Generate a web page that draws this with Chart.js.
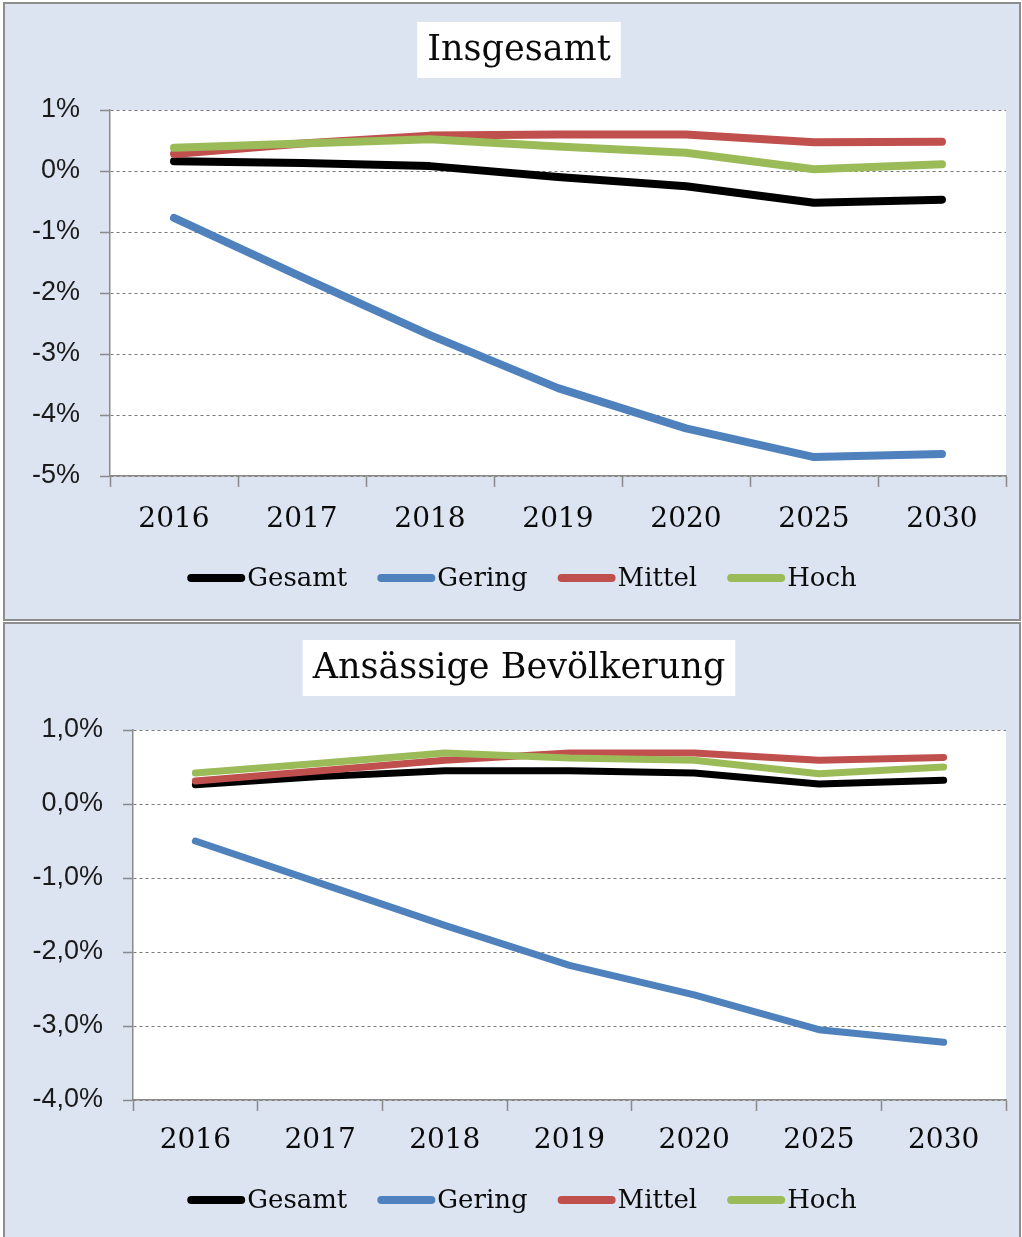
<!DOCTYPE html>
<html lang="de">
<head>
<meta charset="UTF-8">
<title>Insgesamt / Ansässige Bevölkerung</title>
<script src="https://cdn.jsdelivr.net/npm/chart.js"></script>
<style>
  body { margin: 0; background: #ffffff; }
  .panel { position: absolute; left: 3px; width: 1014px; background: #dce4f2; border: 2px solid #8e8e8e; }
  canvas { position: absolute; left: 0; }
</style>
</head>
<body>
<div class="panel" style="top:2px;height:615px"></div>
<div class="panel" style="top:622px;height:620px"></div>
<canvas id="c1" width="1022" height="621" style="top:0"></canvas>
<canvas id="c2" width="1022" height="615" style="top:622px"></canvas>

<script>
const years = ['2016', '2017', '2018', '2019', '2020', '2025', '2030'];
const seriesNames = ['Gesamt', 'Gering', 'Mittel', 'Hoch'];
const seriesColors = ['#000000', '#4f81bd', '#c0504d', '#9bbb59'];

// Insgesamt (%)
const gesamt1 = [0.16, 0.13, 0.08, -0.10, -0.25, -0.52, -0.47];
const gering1 = [-0.77, -1.74, -2.69, -3.56, -4.22, -4.69, -4.64];
const mittel1 = [0.28, 0.45, 0.58, 0.60, 0.60, 0.47, 0.48];
const hoch1 = [0.38, 0.45, 0.52, 0.40, 0.30, 0.03, 0.11];

// Ansässige Bevölkerung (%)
const gesamt2 = [0.26, 0.37, 0.45, 0.45, 0.42, 0.27, 0.32];
const gering2 = [-0.50, -1.07, -1.64, -2.18, -2.58, -3.05, -3.22];
const mittel2 = [0.31, 0.45, 0.59, 0.69, 0.69, 0.59, 0.63];
const hoch2 = [0.42, 0.55, 0.69, 0.62, 0.59, 0.41, 0.50];

const serif = 'DejaVu Serif';
const sans = 'Liberation Sans';

// white plot area + title box + legend, Excel style
const decor = {
  id: 'decor',
  beforeDraw(chart) {
    const a = chart.chartArea, ctx = chart.ctx;
    ctx.save();
    ctx.fillStyle = '#ffffff';
    ctx.fillRect(a.left, a.top, a.right - a.left, a.bottom - a.top);
    ctx.restore();
  },
  afterDraw(chart, args, opts) {
    const ctx = chart.ctx;
    ctx.save();
    // title
    ctx.font = '35px "' + serif + '"';
    const tw = ctx.measureText(opts.title).width;
    ctx.fillStyle = '#ffffff';
    ctx.fillRect(opts.titleX - tw / 2 - 10, opts.titleY - 28, tw + 20, 56);
    ctx.fillStyle = '#0a0a0a';
    ctx.textAlign = 'center';
    ctx.textBaseline = 'middle';
    ctx.fillText(opts.title, opts.titleX, opts.titleY + 1);

    // legend
    ctx.font = '26px "' + serif + '"';
    ctx.textAlign = 'left';
    const ds = chart.data.datasets;
    const lineW = 58, gap = 2, spacing = 30;
    const widths = ds.map(d => ctx.measureText(d.label).width);
    let total = widths.reduce((s, w) => s + lineW + gap + w, 0) + spacing * (ds.length - 1);
    let x = opts.legendX - total / 2;
    const y = opts.legendY;
    ds.forEach((d, i) => {
      ctx.strokeStyle = d.borderColor;
      ctx.lineWidth = 8;
      ctx.lineCap = 'round';
      ctx.beginPath();
      ctx.moveTo(x + 4, y);
      ctx.lineTo(x + lineW - 4, y);
      ctx.stroke();
      ctx.fillStyle = '#0a0a0a';
      ctx.fillText(d.label, x + lineW + gap, y + 1);
      x += lineW + gap + widths[i] + spacing;
    });
    ctx.restore();
  }
};

function makeChart(id, data, cfg) {
  const datasets = data.map((vals, i) => ({
    label: seriesNames[i],
    data: vals,
    borderColor: seriesColors[i],
    backgroundColor: seriesColors[i],
    borderWidth: cfg.lineWidth,
    borderCapStyle: 'round',
    borderJoinStyle: 'round',
    pointRadius: 0,
    tension: 0,
    order: 4 - i
  }));
  const canvasH = document.getElementById(id).height;
  return new Chart(document.getElementById(id), {
    type: 'line',
    data: { labels: years, datasets: datasets },
    options: {
      responsive: false,
      animation: false,
      layout: { padding: { top: cfg.top, right: 16, left: 0, bottom: 0 } },
      plugins: {
        legend: { display: false },
        title: { display: false },
        tooltip: { enabled: false },
        decor: { title: cfg.title, titleX: 519, titleY: cfg.titleY, legendX: 522, legendY: 578 }
      },
      scales: {
        x: {
          offset: true,
          grid: { offset: true, drawOnChartArea: false, tickLength: 11, tickColor: '#8a8a8a', tickWidth: 1.5 },
          border: { color: '#8a8a8a', width: 1.5 },
          ticks: { color: '#0a0a0a', font: { family: serif, size: 28 }, padding: cfg.xPad, maxRotation: 0 },
          afterFit(s) { s.height = canvasH - cfg.bottom; }
        },
        y: {
          min: cfg.min,
          max: 1,
          ticks: {
            stepSize: 1,
            color: '#1a1a1a',
            font: { family: sans, size: 27 },
            padding: 20,
            callback: cfg.fmt
          },
          grid: { color: '#7a7a7a', lineWidth: 1, tickLength: 10, tickColor: '#8a8a8a', tickWidth: 1.5 },
          border: { color: '#8a8a8a', width: 1.5, dash: [3, 3] },
          afterFit(s) { s.width = cfg.left; }
        }
      }
    },
    plugins: [decor]
  });
}

makeChart('c1', [gesamt1, gering1, mittel1, hoch1], {
  title: 'Insgesamt', titleY: 50, top: 110, bottom: 476, left: 110, min: -5, lineWidth: 8, xPad: 16,
  fmt: v => v + '%'
});
makeChart('c2', [gesamt2, gering2, mittel2, hoch2], {
  title: 'Ansässige Bevölkerung', titleY: 46, top: 108, bottom: 478, left: 133, min: -4, lineWidth: 7, xPad: 13,
  fmt: v => v.toFixed(1).replace('.', ',') + '%'
});
</script>
</body>
</html>
